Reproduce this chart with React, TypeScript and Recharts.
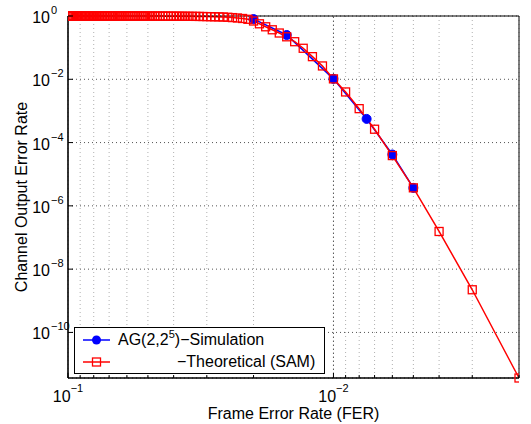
import React from "react";
import {
  LineChart,
  Line,
  XAxis,
  YAxis,
  CartesianGrid,
  Legend,
  ReferenceLine,
  Label,
} from "recharts";

// theoretical curve (SAM): FER grid and channel output error rate
const theoryFer = [
  0.1, 0.099, 0.098, 0.097, 0.096, 0.095, 0.094, 0.093, 0.092, 0.091,
  0.09, 0.089, 0.088, 0.087, 0.086, 0.085, 0.084, 0.083, 0.082, 0.081,
  0.08, 0.079, 0.078, 0.077, 0.076, 0.075, 0.074, 0.073, 0.072, 0.071,
  0.07, 0.069, 0.068, 0.067, 0.066, 0.065, 0.064, 0.063, 0.062, 0.061,
  0.06, 0.059, 0.058, 0.057, 0.056, 0.055, 0.054, 0.053, 0.052, 0.051,
  0.05, 0.049, 0.048, 0.047, 0.046, 0.045, 0.044, 0.043, 0.042, 0.041,
  0.04, 0.039, 0.038, 0.037, 0.036, 0.035, 0.034, 0.033, 0.032, 0.031,
  0.03, 0.029, 0.028, 0.027, 0.026, 0.025, 0.024, 0.023, 0.022, 0.021,
  0.02, 0.019, 0.018, 0.017, 0.016, 0.015, 0.014, 0.013, 0.012, 0.011,
  0.01, 0.009, 0.008, 0.007, 0.006, 0.005, 0.004, 0.003, 0.002,
];
const theoryRate = [
  0.9995, 0.9995, 0.9995, 0.9995, 0.9995, 0.9995, 0.9995, 0.9995, 0.9995, 0.9995,
  0.9995, 0.9995, 0.9995, 0.9995, 0.9995, 0.9995, 0.9995, 0.9995, 0.9995, 0.9995,
  0.9995, 0.9995, 0.9995, 0.9995, 0.9995, 0.9995, 0.9995, 0.9995, 0.9995, 0.9995,
  0.9995, 0.9995, 0.9995, 0.9995, 0.9995, 0.9995, 0.9995, 0.9995, 0.9995, 0.9995,
  0.9995, 0.999, 0.999, 0.998, 0.998, 0.998, 0.997, 0.997, 0.996, 0.996,
  0.995, 0.995, 0.9945, 0.994, 0.993, 0.992, 0.991, 0.99, 0.989, 0.988,
  0.987, 0.985, 0.984, 0.982, 0.98, 0.978, 0.975, 0.972, 0.968, 0.963,
  0.957, 0.951, 0.945, 0.938, 0.928, 0.912, 0.89, 0.865, 0.834, 0.787,
  0.695, 0.567, 0.456, 0.367, 0.29, 0.22, 0.154, 0.0955, 0.0519, 0.0264,
  0.0103, 0.00398, 0.00118, 2.64e-4, 3.88e-5, 3.71e-6, 1.55e-7, 2.23e-9, 3.63e-12,
];

// simulation AG(2,2^5)
const simFer = [0.02, 0.015, 0.01, 0.0075, 0.006, 0.005];
const simRate = [0.8, 0.251, 0.0103, 5.6e-4, 4.2e-5, 3.7e-6];

const xTicks = [
  0.1, 0.09, 0.08, 0.07, 0.06, 0.05, 0.04, 0.03, 0.02,
  0.01, 0.009, 0.008, 0.007, 0.006, 0.005, 0.004, 0.003, 0.002,
];
const xMajor = [0.1, 0.01];
const xMajorLabels = ["−1", "−2"];
const yTicks = [1, 1e-2, 1e-4, 1e-6, 1e-8, 1e-10];
const yTickLabels = ["0", "−2", "−4", "−6", "−8", "−10"];

const xDomain = [0.002, 0.1];
const yDomain = [3.63e-12, 1];

const FONT = '"Liberation Sans", Arial, Helvetica, sans-serif';

const theoryData = theoryFer.map((fer, i) => ({ fer, rate: theoryRate[i] }));
const simData = simFer.map((fer, i) => ({ fer, rate: simRate[i] }));

function BottomTick(props: any) {
  const { x, y, payload } = props;
  const k = xMajor.indexOf(payload.value);
  const len = k >= 0 ? 5 : 3;
  return (
    <g>
      <line x1={x} y1={y} x2={x} y2={y - len} stroke="#000" />
      {k >= 0 && (
        <text x={x} y={y + 24} textAnchor="middle" fontFamily={FONT} fontSize={16} fill="#000">
          <tspan>10</tspan>
          <tspan dy={-10} fontSize={11}>{xMajorLabels[k]}</tspan>
        </text>
      )}
    </g>
  );
}

function TopTick(props: any) {
  const { x, y, payload } = props;
  const len = xMajor.indexOf(payload.value) >= 0 ? 5 : 3;
  return <line x1={x} y1={y} x2={x} y2={y + len} stroke="#000" />;
}

function LeftTick(props: any) {
  const { x, y, payload } = props;
  const k = yTicks.indexOf(payload.value);
  return (
    <g>
      <line x1={x} y1={y} x2={x + 5} y2={y} stroke="#000" />
      <text x={50} y={y + 7} textAnchor="end" fontFamily={FONT} fontSize={16} fill="#000">
        10
      </text>
      <text x={51} y={y - 2} textAnchor="start" fontFamily={FONT} fontSize={11} fill="#000">
        {yTickLabels[k]}
      </text>
    </g>
  );
}

function RightTick(props: any) {
  const { x, y } = props;
  return <line x1={x} y1={y} x2={x - 5} y2={y} stroke="#000" />;
}

function SquareDot(props: any) {
  const { cx, cy, index } = props;
  return (
    <rect
      key={`sq-${index}`}
      x={cx - 4}
      y={cy - 4}
      width={8}
      height={8}
      fill="none"
      stroke="#ff0000"
      strokeWidth={1.3}
    />
  );
}

function CircleDot(props: any) {
  const { cx, cy, index } = props;
  return <circle key={`c-${index}`} cx={cx} cy={cy} r={4.5} fill="#0000ff" stroke="#0000ff" />;
}

function LegendBox() {
  return (
    <div
      style={{
        position: "relative",
        width: 251,
        height: 47,
        boxSizing: "border-box",
        border: "1.5px solid #000",
        background: "#fff",
        fontFamily: FONT,
        fontSize: 16,
        color: "#000",
      }}
    >
      <svg style={{ position: "absolute", left: 8, top: 6 }} width={28} height={12}>
        <line x1={0} y1={6} x2={27} y2={6} stroke="#0000ff" strokeWidth={1.5} />
        <circle cx={13.5} cy={6} r={4.5} fill="#0000ff" />
      </svg>
      <div style={{ position: "absolute", left: 43, top: 3, lineHeight: "18px", whiteSpace: "nowrap" }}>
        AG(2,2<span style={{ fontSize: 11, position: "relative", top: -7 }}>5</span>)−Simulation
      </div>
      <svg style={{ position: "absolute", left: 8, top: 28 }} width={28} height={12}>
        <line x1={0} y1={6} x2={27} y2={6} stroke="#ff0000" strokeWidth={1.5} />
        <rect x={9.5} y={2} width={8} height={8} fill="none" stroke="#ff0000" strokeWidth={1.3} />
      </svg>
      <div style={{ position: "absolute", left: 102, top: 25, lineHeight: "18px", whiteSpace: "nowrap" }}>
        −Theoretical (SAM)
      </div>
    </div>
  );
}

export default function App() {
  return (
    <div style={{ position: "absolute", left: 0, top: 0, background: "#fff" }}>
      <LineChart
        width={531}
        height={424}
        margin={{ top: 6, right: 2, bottom: 2, left: 0 }}
      >
        <CartesianGrid vertical={false} stroke="#555" strokeDasharray="1 3" />
        <CartesianGrid horizontal={false} stroke="#b0b0b0" strokeDasharray="1 3" />
        <ReferenceLine x={0.01} stroke="#555" strokeDasharray="1 3" />

        <XAxis
          dataKey="fer"
          type="number"
          scale="log"
          domain={xDomain}
          ticks={xTicks}
          reversed
          allowDataOverflow
          height={44}
          tickSize={0}
          tickMargin={0}
          interval={0}
          axisLine={{ stroke: "#000", strokeWidth: 1.6 }}
          tick={<BottomTick />}
        >
          <Label
            value="Frame Error Rate (FER)"
            position="insideBottom"
            offset={3}
            style={{ fontFamily: FONT, fontSize: 16, fill: "#000" }}
          />
        </XAxis>
        <XAxis
          xAxisId="top"
          orientation="top"
          type="number"
          scale="log"
          domain={xDomain}
          ticks={xTicks}
          reversed
          allowDataOverflow
          height={10}
          tickSize={0}
          tickMargin={0}
          interval={0}
          axisLine={{ stroke: "#000" }}
          tick={<TopTick />}
        />
        <YAxis
          type="number"
          scale="log"
          domain={yDomain}
          ticks={yTicks}
          width={68}
          tickSize={0}
          tickMargin={0}
          interval={0}
          axisLine={{ stroke: "#000", strokeWidth: 1.6 }}
          tick={<LeftTick />}
        >
          <Label
            position="insideLeft"
            content={(p: any) => {
              const vb = p.viewBox;
              const cy = vb.y + vb.height / 2;
              return (
                <text
                  transform={`translate(27, ${cy}) rotate(-90)`}
                  textAnchor="middle"
                  fontFamily={FONT}
                  fontSize={16}
                  fill="#000"
                >
                  Channel Output Error Rate
                </text>
              );
            }}
          />
        </YAxis>
        <YAxis
          yAxisId="right"
          orientation="right"
          type="number"
          scale="log"
          domain={yDomain}
          ticks={yTicks}
          width={10}
          tickSize={0}
          tickMargin={0}
          interval={0}
          axisLine={{ stroke: "#000" }}
          tick={<RightTick />}
        />

        <Line
          data={simData}
          dataKey="rate"
          type="linear"
          stroke="#0000ff"
          strokeWidth={1.5}
          dot={CircleDot}
          activeDot={false}
          isAnimationActive={false}
        />
        <Line
          data={theoryData}
          dataKey="rate"
          type="linear"
          stroke="#ff0000"
          strokeWidth={1.5}
          dot={SquareDot}
          activeDot={false}
          isAnimationActive={false}
        />

        <Legend
          layout="horizontal"
          verticalAlign="middle"
          align="center"
          wrapperStyle={{ left: 74, top: 327, width: 251, height: 47 }}
          content={() => <LegendBox />}
        />
      </LineChart>
    </div>
  );
}
